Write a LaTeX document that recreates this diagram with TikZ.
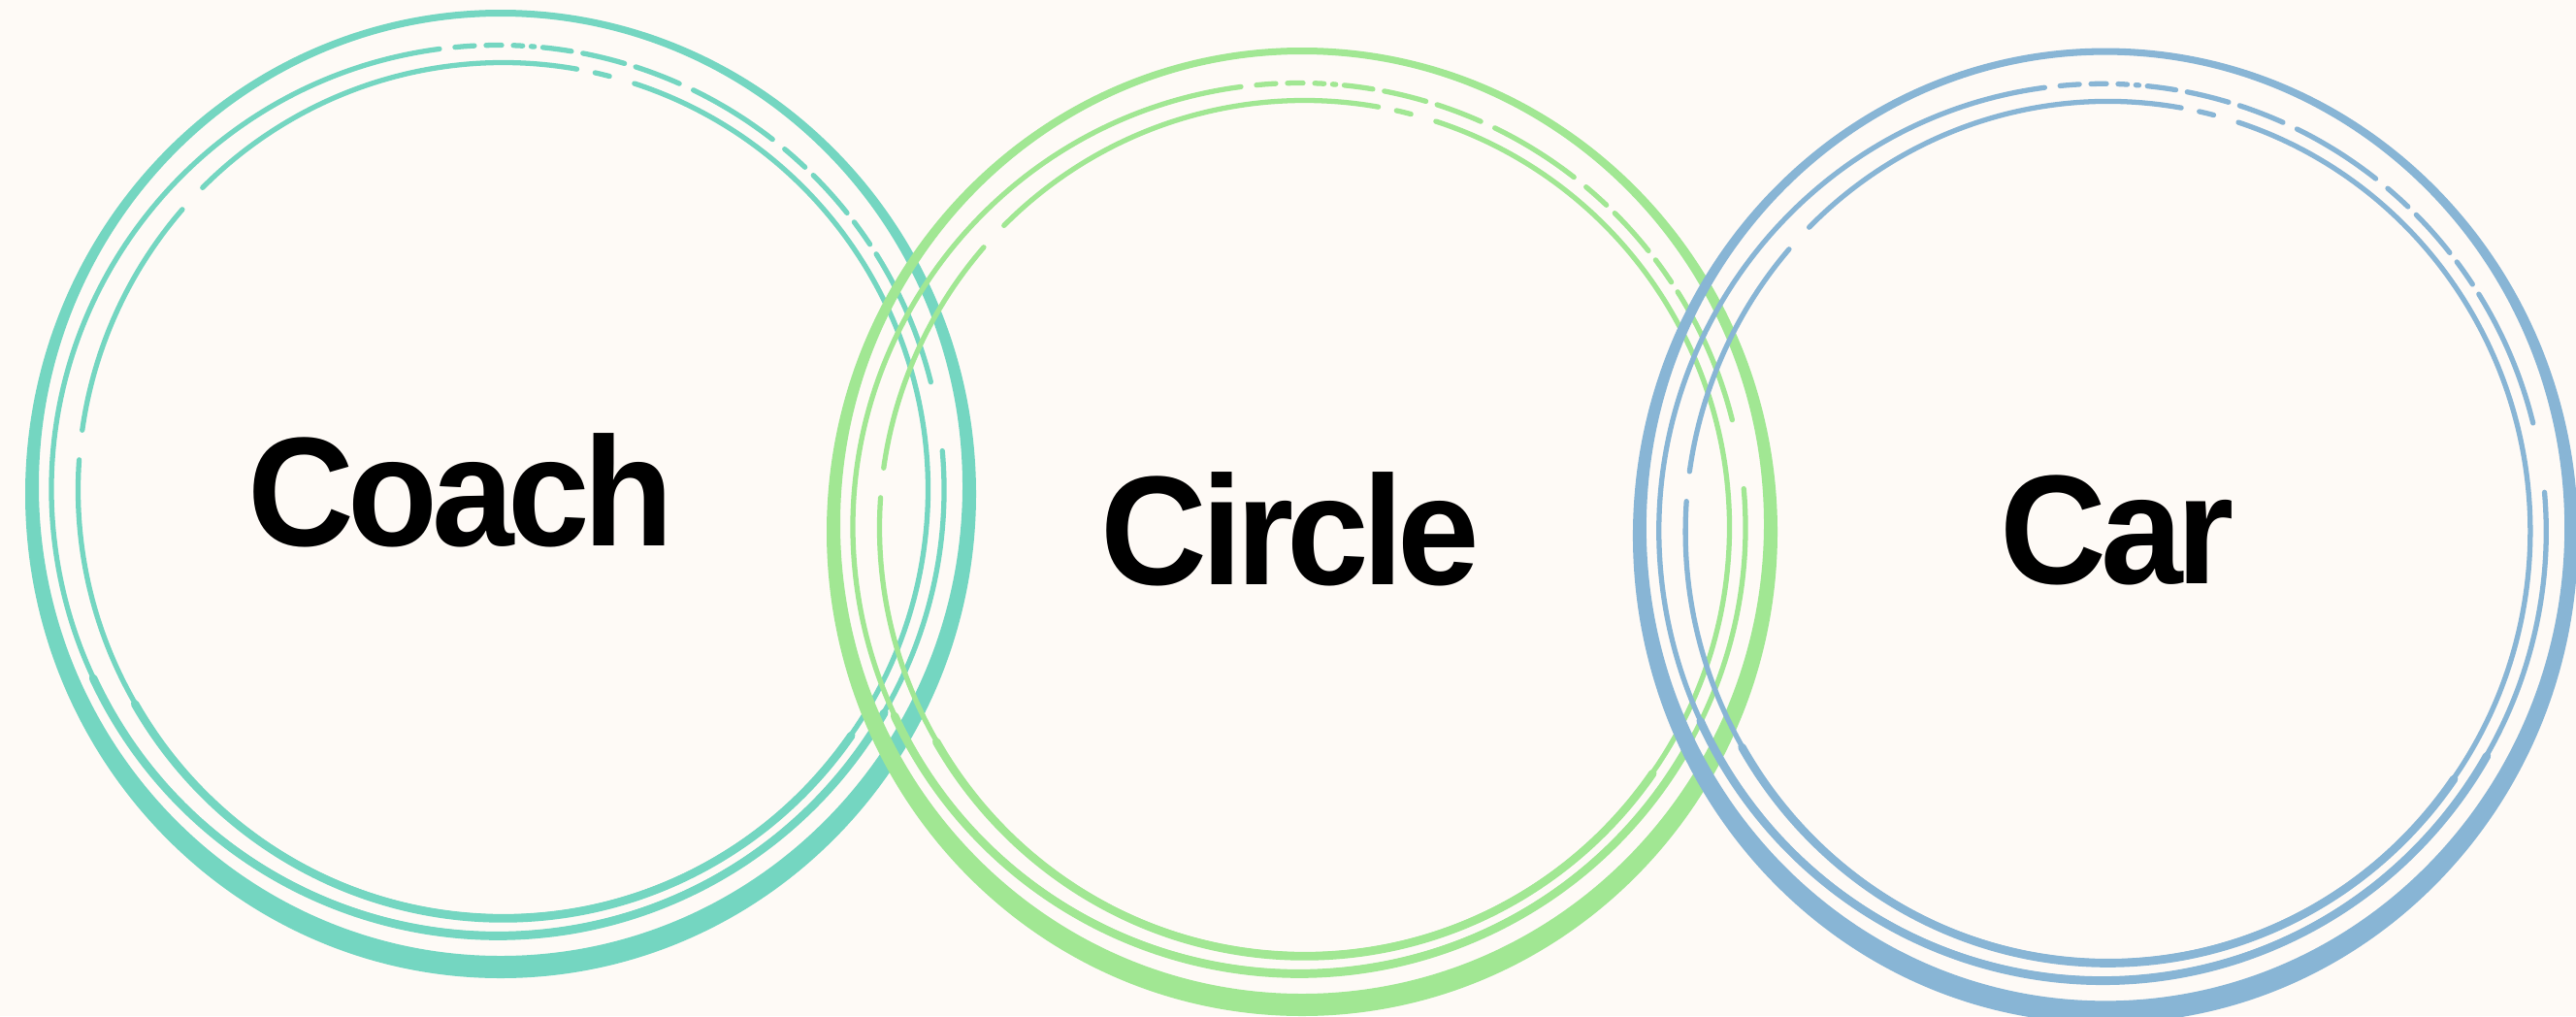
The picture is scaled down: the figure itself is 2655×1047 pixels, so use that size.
\documentclass[tikz,border=0pt]{standalone}
\usepackage{fontspec}
\newfontfamily\wordfont{Liberation Sans}[FakeStretch=0.95, LetterSpace=-4]
\definecolor{paper}{RGB}{254, 250, 246}
\definecolor{coachteal}{RGB}{116, 214, 193}
\definecolor{circlegreen}{RGB}{161, 231, 147}
\definecolor{carblue}{RGB}{136, 181, 213}

% one hand-drawn ring, centred on the origin of the current scope
\newcommand{\brushring}[1]{%
    % heavy outer stroke, widest at the bottom
    \fill[fill=#1, even odd rule] (0,-4) ellipse [x radius=490, y radius=499]
                                  (0,4) ellipse [x radius=476, y radius=484];
    % middle ring, broken along the top
    \begin{scope}[shift={(-3,0.5)}]
        \draw[draw=#1, ringline] (-262.5:460 and 458) arc[start angle=-262.5, end angle=5, x radius=460, y radius=458];
        \foreach \a/\b in {95.5/93, 91.5/89.5, 88/86.8, 85.7/85.3, 84.2/80.5, 79/73.5, 72/66, 64/52, 50/46.5, 45/38.5, 37/33.5, 32/14} {
            \draw[draw=#1, ringline] (\a:460 and 458) arc[start angle=\a, end angle=\b, x radius=460, y radius=458];
        }
        \draw[draw=#1, ringheavy] (205:460 and 460) arc[start angle=205, end angle=330, x radius=460, y radius=460];
    \end{scope}
    % inner ring
    \begin{scope}[shift={(2.5,0.5)}]
        \foreach \a/\b in {80/135, 139/172, 176/432, 77.5/75.5} {
            \draw[draw=#1, ringline] (\a:438 and 440) arc[start angle=\a, end angle=\b, x radius=438, y radius=440];
        }
        \draw[draw=#1, ringheavy] (210:438 and 442) arc[start angle=210, end angle=325, x radius=438, y radius=442];
    \end{scope}
}

\begin{document}
\begin{tikzpicture}[
    x=0.01cm, y=0.01cm,
    ringline/.style={line width=1.5pt, line cap=round},
    ringheavy/.style={line width=2.4pt, line cap=round},
    word/.style={font=\wordfont\bfseries\fontsize{45.5}{50}\selectfont, text=black, inner sep=0pt, anchor=base}
]
    \useasboundingbox (0,0) rectangle (2655,1047);
    \fill[paper] (0,0) rectangle (2655,1047);

    % =========================================================================
    % THREE BRUSH RINGS
    % =========================================================================
    \foreach \cx/\cy/\col/\sx/\sy in {516/542/coachteal/1/1, 1342/503/circlegreen/1/1, 2170/499/carblue/0.994/1.007} {
        \begin{scope}[shift={(\cx,\cy)}, xscale=\sx, yscale=\sy]
            \brushring{\col}
        \end{scope}
    }

    % =========================================================================
    % WORDS
    % =========================================================================
    \node[word] (coach) at (475,485) {Coach};
    \node[word] (circ) at (1330,445) {Circle};
    \node[word] (car) at (2182,446) {Car};

\end{tikzpicture}
\end{document}
